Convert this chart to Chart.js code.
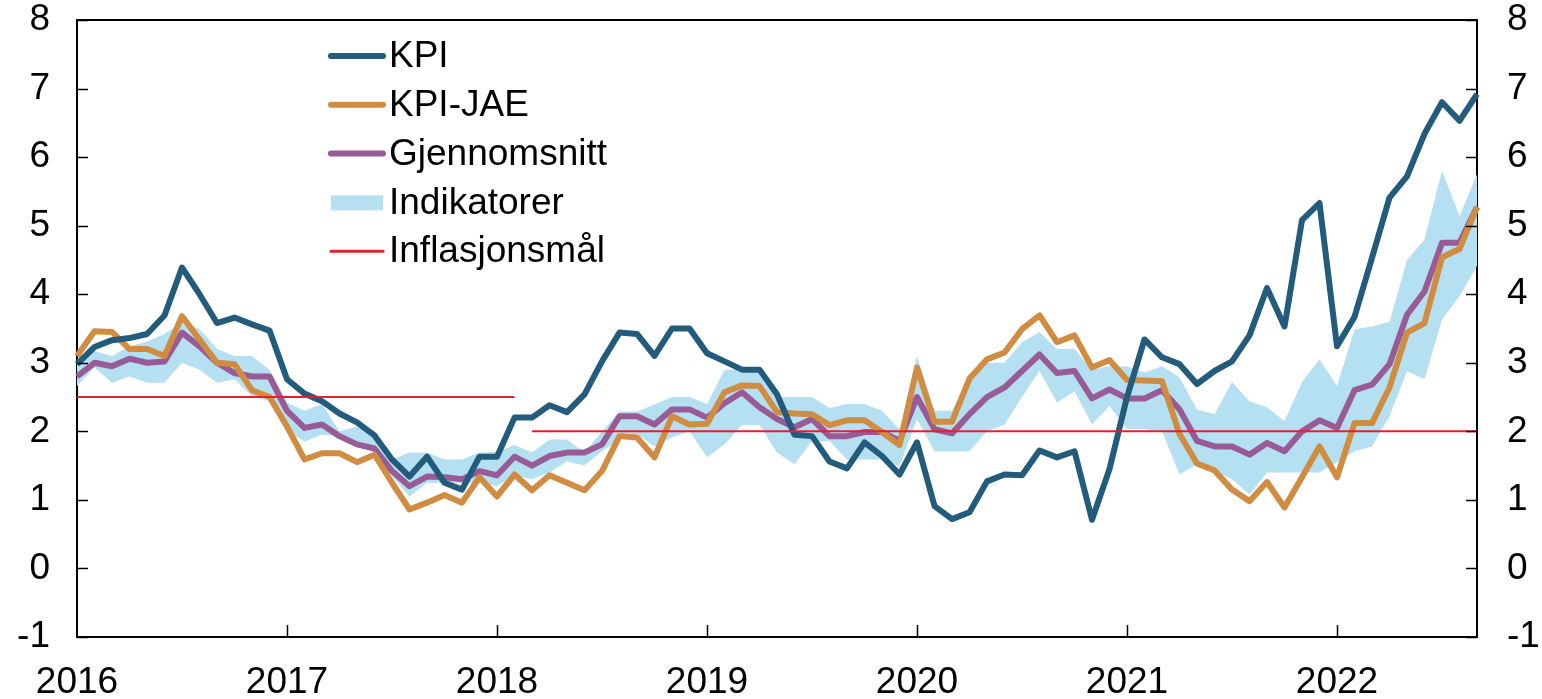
<!DOCTYPE html>
<html>
<head>
<meta charset="utf-8">
<script src="https://cdn.jsdelivr.net/npm/chart.js@4.4.0/dist/chart.umd.min.js"></script>
<style>
  html, body { margin: 0; padding: 0; background: #fff; }
  #wrap { width: 1542px; height: 699px; }
</style>
</head>
<body>
<div id="wrap"><canvas id="inflChart" width="1542" height="699"></canvas></div>
<script>
// Data: KPI, KPI-JAE, gjennomsnitt og spenn i indikatorer, månedlig jan 2016 - sep 2022
var years = ['2016', '2017', '2018', '2019', '2020', '2021', '2022'];
var yTicks = [-1, 0, 1, 2, 3, 4, 5, 6, 7, 8];

var kpi = [2.98, 3.23, 3.33, 3.36, 3.42, 3.69, 4.39, 4.0, 3.58, 3.66, 3.56, 3.47,
  2.76, 2.55, 2.44, 2.26, 2.13, 1.94, 1.59, 1.34, 1.63, 1.25, 1.15, 1.63,
  1.63, 2.2, 2.2, 2.38, 2.28, 2.54, 3.02, 3.44, 3.42, 3.1, 3.5, 3.5,
  3.14, 3.02, 2.9, 2.9, 2.54, 1.95, 1.93, 1.56, 1.46, 1.84, 1.64, 1.37,
  1.84, 0.91, 0.72, 0.82, 1.27, 1.37, 1.36, 1.72, 1.62, 1.71, 0.71, 1.45,
  2.5, 3.34, 3.08, 2.98, 2.69, 2.88, 3.02, 3.4, 4.09, 3.53, 5.08, 5.33,
  3.24, 3.67, 4.53, 5.41, 5.72, 6.34, 6.8, 6.53, 6.92];

var kpiJae = [3.1, 3.46, 3.45, 3.2, 3.2, 3.1, 3.68, 3.34, 3.0, 2.98, 2.6, 2.5,
  2.07, 1.59, 1.68, 1.68, 1.55, 1.66, 1.25, 0.86, 0.96, 1.07, 0.96, 1.33,
  1.05, 1.37, 1.14, 1.36, 1.25, 1.14, 1.42, 1.93, 1.91, 1.62, 2.22, 2.1,
  2.11, 2.57, 2.67, 2.66, 2.28, 2.26, 2.25, 2.09, 2.16, 2.16, 1.99, 1.8,
  2.93, 2.14, 2.14, 2.77, 3.05, 3.15, 3.49, 3.69, 3.3, 3.4, 2.93, 3.04,
  2.75, 2.74, 2.73, 1.96, 1.53, 1.43, 1.15, 0.98, 1.26, 0.89, 1.33, 1.78,
  1.33, 2.12, 2.12, 2.64, 3.44, 3.58, 4.54, 4.66, 5.27];

var snitt = [2.8, 3.0, 2.95, 3.06, 3.0, 3.02, 3.44, 3.24, 3.0, 2.85, 2.8, 2.8,
  2.3, 2.05, 2.1, 1.93, 1.81, 1.75, 1.42, 1.2, 1.34, 1.33, 1.3, 1.42,
  1.36, 1.63, 1.5, 1.64, 1.69, 1.69, 1.81, 2.22, 2.22, 2.1, 2.32, 2.32,
  2.2, 2.41, 2.57, 2.35, 2.18, 2.06, 2.18, 1.93, 1.93, 1.99, 1.99, 1.86,
  2.5, 2.03, 1.97, 2.25, 2.5, 2.64, 2.88, 3.12, 2.85, 2.88, 2.48, 2.61,
  2.48, 2.48, 2.6, 2.32, 1.86, 1.78, 1.78, 1.66, 1.83, 1.71, 2.0, 2.16,
  2.05, 2.6, 2.68, 2.98, 3.7, 4.04, 4.75, 4.75, 5.27];

var indMax = [3.05, 3.17, 3.1, 3.24, 3.31, 3.42, 3.6, 3.49, 3.2, 3.1, 3.1, 2.9,
  2.42, 2.3, 2.4, 2.0, 2.07, 1.96, 1.59, 1.69, 1.69, 1.59, 1.59, 1.69,
  1.7, 1.8, 1.69, 1.88, 1.88, 1.69, 2.0, 2.29, 2.29, 2.39, 2.5, 2.5,
  2.4, 2.9, 2.9, 2.9, 2.5, 2.5, 2.5, 2.34, 2.4, 2.4, 2.3, 2.03,
  3.1, 2.3, 2.3, 2.79, 3.0, 3.0, 3.3, 3.45, 3.2, 3.2, 2.9, 2.95,
  2.95, 2.86, 2.95, 2.79, 2.32, 2.25, 2.72, 2.44, 2.35, 2.15, 2.72, 3.05,
  2.66, 3.49, 3.53, 3.6, 4.5, 4.8, 5.8, 5.14, 5.75];

var indMin = [2.66, 2.93, 2.71, 2.8, 2.71, 2.71, 3.0, 2.9, 2.71, 2.76, 2.51, 2.44,
  2.0, 1.85, 1.95, 1.93, 1.81, 1.74, 1.34, 1.05, 1.25, 1.25, 1.25, 1.25,
  1.2, 1.36, 1.3, 1.4, 1.56, 1.5, 1.71, 1.88, 1.96, 1.78, 1.91, 2.0,
  1.62, 1.81, 2.09, 2.09, 1.69, 1.52, 1.86, 1.86, 1.59, 1.59, 1.59, 1.49,
  2.18, 1.71, 1.71, 1.71, 2.0, 2.1, 2.5, 2.88, 2.42, 2.58, 2.1, 2.37,
  2.03, 2.03, 2.0, 1.37, 1.52, 1.42, 1.3, 1.08, 1.4, 1.4, 1.4, 1.4,
  1.55, 1.71, 1.78, 2.22, 2.88, 2.76, 3.63, 3.97, 4.41];

// inflasjonsmål: 2,5 til feb 2018, deretter 2
var maal = [2.5, 2.5, 2.5, 2.5, 2.5, 2.5, 2.5, 2.5, 2.5, 2.5, 2.5, 2.5,
  2.5, 2.5, 2.5, 2.5, 2.5, 2.5, 2.5, 2.5, 2.5, 2.5, 2.5, 2.5,
  2.5, 2.5, 2, 2, 2, 2, 2, 2, 2, 2, 2, 2,
  2, 2, 2, 2, 2, 2, 2, 2, 2, 2, 2, 2,
  2, 2, 2, 2, 2, 2, 2, 2, 2, 2, 2, 2,
  2, 2, 2, 2, 2, 2, 2, 2, 2, 2, 2, 2,
  2, 2, 2, 2, 2, 2, 2, 2, 2];

// månedsetiketter for kategori-aksen
var months = [];
years.forEach(function (y) {
  for (var m = 1; m <= 12; m++) {
    if (months.length < kpi.length) months.push(y + '-' + (m < 10 ? '0' + m : m));
  }
});

var FONT = 'Arial, "Liberation Sans", sans-serif';
Chart.defaults.font.family = FONT;
Chart.defaults.font.size = 37;
Chart.defaults.color = '#000';

var colKpi = '#225B7B';
var colJae = '#D08C40';
var colSnitt = '#985B96';
var colInd = '#B4E0F1';
var colMaal = '#E2212B';

// egen legende inne i plottet + tickmerker inn mot plottet + ramme
var extras = {
  id: 'extras',
  afterDraw: function (chart) {
    var c = chart.ctx, a = chart.chartArea;
    var xs = chart.scales.x, yl = chart.scales.y;
    c.save();
    c.strokeStyle = '#000';
    c.lineWidth = 2;
    // ramme topp
    c.beginPath();
    c.moveTo(a.left, a.top); c.lineTo(a.right, a.top);
    c.stroke();
    c.lineWidth = 1.5;
    // y-tick merker
    yTicks.forEach(function (v) {
      var py = Math.round(yl.getPixelForValue(v)) + 0.5;
      c.beginPath();
      c.moveTo(a.left, py); c.lineTo(a.left + 11, py);
      c.moveTo(a.right, py); c.lineTo(a.right - 11, py);
      c.stroke();
    });
    // x-tick merker ved hvert årsskifte
    months.forEach(function (m, i) {
      if (m.slice(5) === '01' && i > 0) {
        var px = Math.round(xs.getPixelForValue(i)) + 0.5;
        c.beginPath();
        c.moveTo(px, a.bottom); c.lineTo(px, a.bottom - 12);
        c.stroke();
      }
    });

    // legende
    var items = [
      { label: 'KPI', color: colKpi, kind: 'line', w: 6 },
      { label: 'KPI-JAE', color: colJae, kind: 'line', w: 6 },
      { label: 'Gjennomsnitt', color: colSnitt, kind: 'line', w: 6 },
      { label: 'Indikatorer', color: colInd, kind: 'box' },
      { label: 'Inflasjonsmål', color: colMaal, kind: 'line', w: 3 }
    ];
    c.font = '37px ' + FONT;
    c.textBaseline = 'middle';
    c.textAlign = 'left';
    items.forEach(function (it, k) {
      var y = 56 + k * 48.8;
      if (it.kind === 'box') {
        c.fillStyle = it.color;
        c.fillRect(331, y - 7, 52, 15);
      } else {
        c.strokeStyle = it.color;
        c.lineWidth = it.w;
        c.lineCap = 'round';
        c.beginPath();
        c.moveTo(331, y); c.lineTo(383, y);
        c.stroke();
      }
      c.fillStyle = '#000';
      c.fillText(it.label, 389, y + 1);
    });
    c.restore();
  }
};

function noPad(s) {
  s.paddingTop = 0; s.paddingBottom = 0;
  s.paddingLeft = 0; s.paddingRight = 0;
}

var ctx = document.getElementById('inflChart').getContext('2d');
var chart = new Chart(ctx, {
  type: 'line',
  data: {
    labels: months,
    datasets: [
      {
        label: 'Inflasjonsmål',
        data: maal,
        borderColor: colMaal,
        borderWidth: 2,
        segment: {
          borderColor: function (s) { return s.p0.parsed.y !== s.p1.parsed.y ? 'rgba(0,0,0,0)' : colMaal; }
        }
      },
      { label: 'KPI', data: kpi, borderColor: colKpi, borderWidth: 6 },
      { label: 'KPI-JAE', data: kpiJae, borderColor: colJae, borderWidth: 6 },
      { label: 'Gjennomsnitt', data: snitt, borderColor: colSnitt, borderWidth: 6 },
      { label: 'Indikatorer', data: indMax, borderWidth: 0, borderColor: 'rgba(0,0,0,0)', backgroundColor: colInd, fill: '+1' },
      { label: 'Indikatorer min', data: indMin, borderWidth: 0, borderColor: 'rgba(0,0,0,0)', fill: false }
    ]
  },
  options: {
    responsive: false,
    animation: false,
    events: [],
    elements: {
      point: { radius: 0 },
      line: { tension: 0, borderJoinStyle: 'round', borderCapStyle: 'butt' }
    },
    layout: { padding: { top: 20, left: 0, right: 0, bottom: 0 } },
    plugins: {
      legend: { display: false },
      tooltip: { enabled: false }
    },
    scales: {
      x: {
        type: 'category',
        offset: false,
        grid: { display: false, drawTicks: false },
        border: { color: '#000', width: 2 },
        ticks: {
          autoSkip: false,
          maxRotation: 0,
          padding: 24,
          callback: function (v, i) {
            var m = months[i];
            return m.slice(5) === '01' ? m.slice(0, 4) : '';
          }
        },
        afterFit: function (s) { s.height = 62; noPad(s); }
      },
      y: {
        position: 'left',
        min: -1, max: 8,
        grid: { display: false, drawTicks: false },
        border: { color: '#000', width: 2 },
        ticks: { padding: 27 },
        afterBuildTicks: function (s) { s.ticks = yTicks.map(function (v) { return { value: v }; }); },
        afterFit: function (s) { s.width = 77; noPad(s); }
      },
      y2: {
        position: 'right',
        min: -1, max: 8,
        grid: { display: false, drawTicks: false },
        border: { color: '#000', width: 2 },
        ticks: { padding: 30 },
        afterBuildTicks: function (s) { s.ticks = yTicks.map(function (v) { return { value: v }; }); },
        afterFit: function (s) { s.width = 65; noPad(s); }
      }
    }
  },
  plugins: [extras]
});
</script>
</body>
</html>
